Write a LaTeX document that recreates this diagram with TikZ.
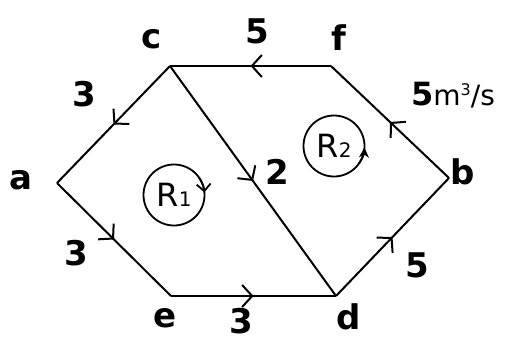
\documentclass[tikz,border=0pt]{standalone}
\usepackage{fontspec}
\setmainfont{DejaVu Sans}
\usetikzlibrary{arrows.meta,decorations.markings}
\tikzset{
  >={Straight Barb[length=10pt,width=22pt,line width=2pt]},
  flow/.style={line width=2pt, line join=miter,
    decoration={markings, mark=at position 0.5 with {\arrow{>}}},
    postaction={decorate}},
  lbl/.style={font=\bfseries\fontsize{34}{34}\selectfont, inner sep=0pt},
  loopc/.style={circle, draw, line width=1.8pt, minimum size=61pt, inner sep=0pt, outer sep=0pt,
    font=\fontsize{32}{32}\selectfont},
  loopar/.style={line width=1.8pt},
}
\begin{document}
\begin{tikzpicture}[x=1pt,y=1pt]
\useasboundingbox (0,0) rectangle (508,341);
% vertices
\coordinate (va) at (57,158);
\coordinate (vc) at (170,275);
\coordinate (vf) at (331,275);
\coordinate (vb) at (449,163);
\coordinate (vd) at (336,45);
\coordinate (ve) at (171,45);
% edges
\draw[flow] (vc) -- (va);
\draw[flow] (va) -- (ve);
\draw[flow] (ve) -- (vd);
\draw[flow] (vd) -- (vb);
\draw[flow] (vb) -- (vf);
\draw[flow] (vf) -- (vc);
\draw[flow] (vc) -- (vd);
% vertex labels
\node[lbl] (la) at (21,161) {a};
\node[lbl] (lb) at (463,169) {b};
\node[lbl] (lc) at (152,302) {c};
\node[lbl] (ld) at (349,24) {d};
\node[lbl] (le) at (165,23) {e};
\node[lbl] (lf) at (339,303) {f};
% edge values
\node[lbl] (wfc) at (257,310) {5};
\node[lbl] (wca) at (84,247) {3};
\node[lbl] (wae) at (76,88) {3};
\node[lbl] (wed) at (241,20) {3};
\node[lbl] (wdb) at (417,76) {5};
\node[lbl] (wcd) at (277,169) {2};
\node[inner sep=0pt, anchor=base west] (wbf) at (411,236) {{\bfseries\fontsize{32}{32}\selectfont 5}{\fontsize{28}{28}\selectfont m\raisebox{10pt}{\fontsize{16}{16}\selectfont 3}/s}};
% loops
\node[loopc] (r1) at (174,146) {R{\fontsize{20}{20}\selectfont 1}};
\node[loopc] (r2) at (334,195) {R{\fontsize{20}{20}\selectfont 2}};
\draw[loopar, -{Straight Barb[length=7pt,width=14pt]}] (r1.35) arc[start angle=35, end angle=5, radius=30.5pt];
\draw[loopar, -{Stealth[length=10pt,width=10pt]}] (r2.-35) arc[start angle=-35, end angle=-3, radius=30.5pt];
\end{tikzpicture}
\end{document}
